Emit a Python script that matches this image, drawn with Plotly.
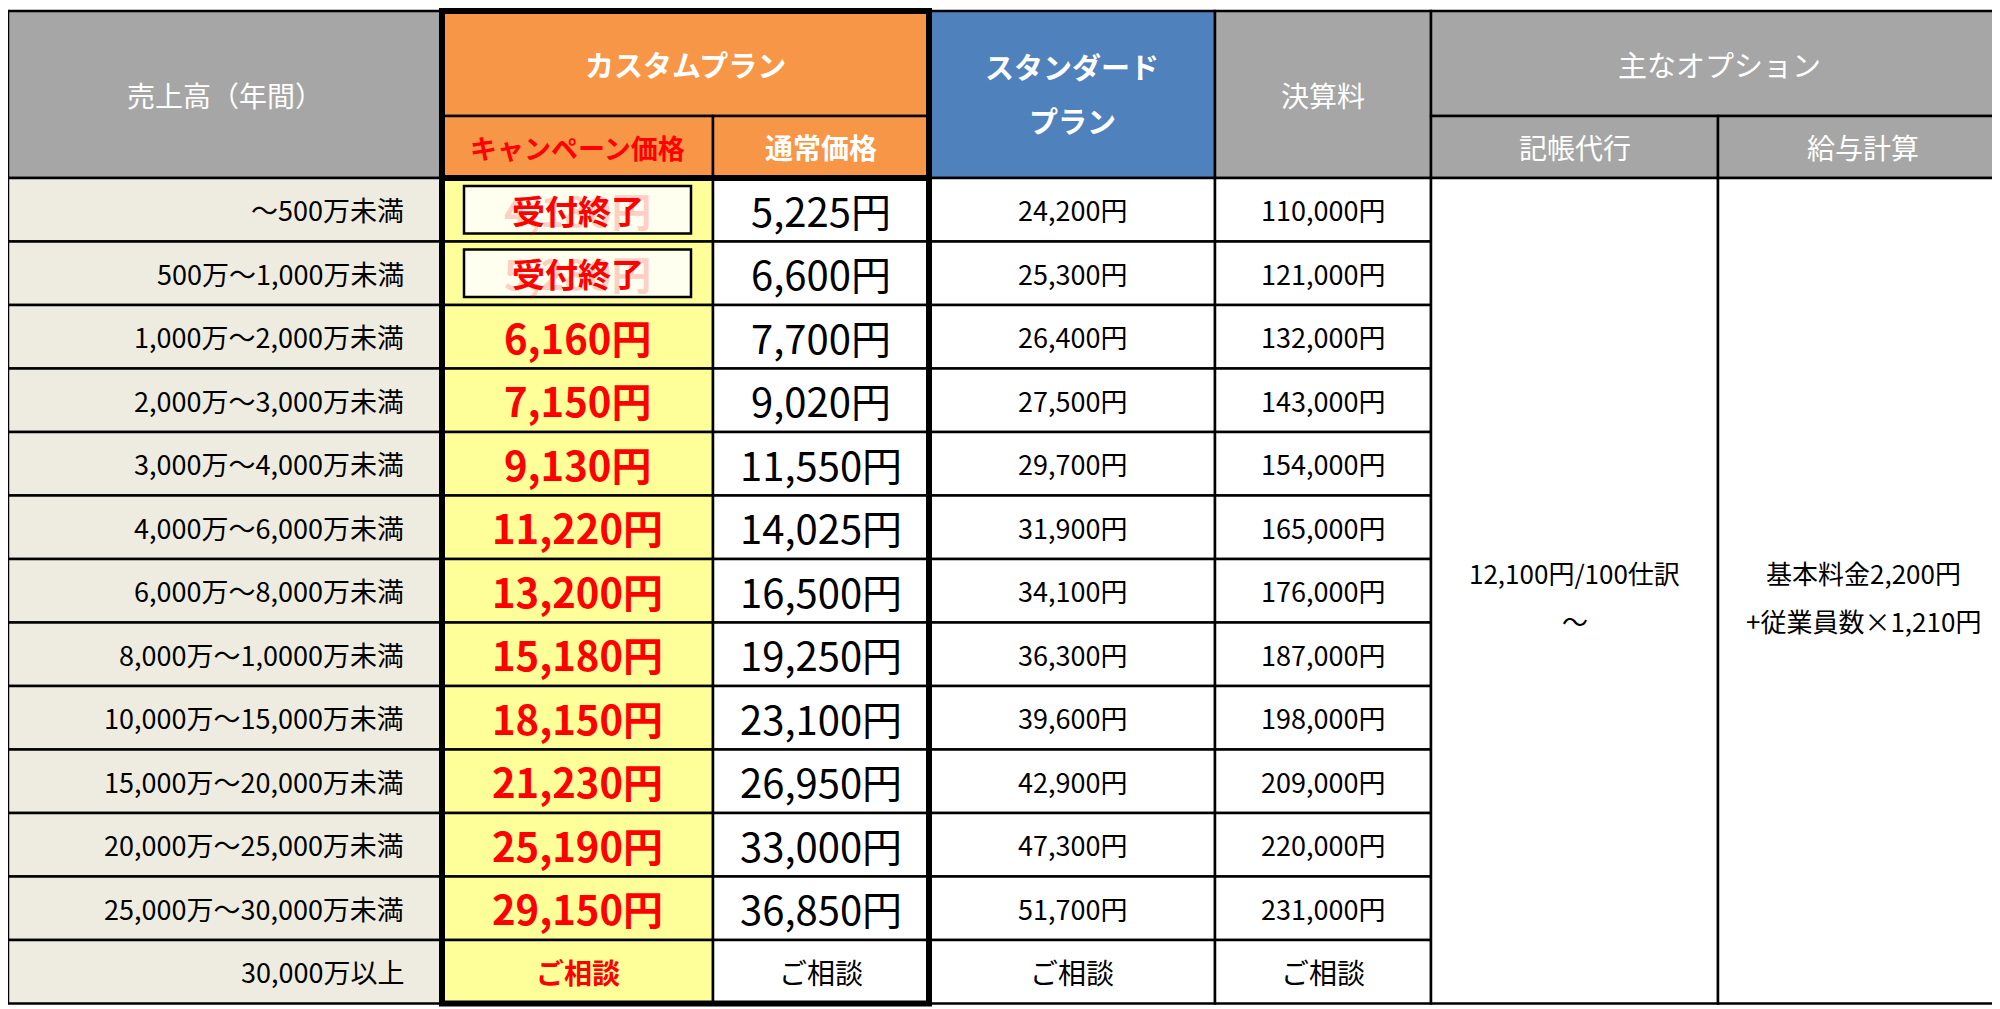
import plotly.graph_objects as go

# table values
sales = ["～500万未満", "500万～1,000万未満", "1,000万～2,000万未満", "2,000万～3,000万未満",
         "3,000万～4,000万未満", "4,000万～6,000万未満", "6,000万～8,000万未満",
         "8,000万～1,0000万未満", "10,000万～15,000万未満", "15,000万～20,000万未満",
         "20,000万～25,000万未満", "25,000万～30,000万未満", "30,000万以上"]
campaign = ["4,180円", "5,280円", "6,160円", "7,150円", "9,130円", "11,220円", "13,200円",
            "15,180円", "18,150円", "21,230円", "25,190円", "29,150円", "ご相談"]
closed = [True, True] + [False] * 11
normal = ["5,225円", "6,600円", "7,700円", "9,020円", "11,550円", "14,025円", "16,500円",
          "19,250円", "23,100円", "26,950円", "33,000円", "36,850円", "ご相談"]
standard = ["24,200円", "25,300円", "26,400円", "27,500円", "29,700円", "31,900円", "34,100円",
            "36,300円", "39,600円", "42,900円", "47,300円", "51,700円", "ご相談"]
kessan = ["110,000円", "121,000円", "132,000円", "143,000円", "154,000円", "165,000円", "176,000円",
          "187,000円", "198,000円", "209,000円", "220,000円", "231,000円", "ご相談"]
kicho = ["12,100円/100仕訳", "～"]
kyuyo = ["基本料金2,200円", "+従業員数×1,210円"]

W, H = 2000, 1009
cols = [0, 434, 705, 921, 1207, 1423, 1710, 2000]
top, mid, hb = 3, 108, 170
rh = 63.5
FONT = "Noto Sans CJK JP"
GRAY, ORANGE, BLUE = "#a6a6a6", "#f79646", "#4f81bd"
BEIGE, YELLOW, RED = "#eeece1", "#ffff99", "#ff0000"

shapes, ann = [], []


def rect(x0, x1, y0, y1, fill, lw=2.5, lc="black"):
    shapes.append(dict(type="rect", x0=x0, x1=x1, y0=y0, y1=y1, fillcolor=fill,
                       line=dict(color=lc, width=lw), layer="below"))


def text(x, y, s, size, color="black", anchor="center", weight="bold"):
    ann.append(dict(x=x, y=y, text=s, showarrow=False, xanchor=anchor, yanchor="middle",
                    font=dict(family=FONT, size=size, color=color, weight=weight)))


def cx(i):
    return (cols[i] + cols[i + 1]) / 2


# header
rect(cols[0], cols[1], top, hb, GRAY)
text(cx(0), (top + hb) / 2, "売上高（年間）", 28, "white", weight="normal")
rect(cols[1], cols[3], top, mid, ORANGE)
text((cols[1] + cols[3]) / 2, (top + mid) / 2, "カスタムプラン", 29, "white")
rect(cols[1], cols[2], mid, hb, ORANGE)
text(cx(1), (mid + hb) / 2, "キャンペーン価格", 27, RED)
rect(cols[2], cols[3], mid, hb, ORANGE)
text(cx(2), (mid + hb) / 2, "通常価格", 28, "white")
rect(cols[3], cols[4], top, hb, BLUE)
text(cx(3), 58, "スタンダード", 29, "white")
text(cx(3), 112, "プラン", 29, "white")
rect(cols[4], cols[5], top, hb, GRAY)
text(cx(4), (top + hb) / 2, "決算料", 28, "white", weight="normal")
rect(cols[5], cols[7], top, mid, GRAY)
text((cols[5] + cols[7]) / 2, (top + mid) / 2, "主なオプション", 29, "white", weight="normal")
rect(cols[5], cols[6], mid, hb, GRAY)
text(cx(5), (mid + hb) / 2, "記帳代行", 28, "white", weight="normal")
rect(cols[6], cols[7], mid, hb, GRAY)
text(cx(6), (mid + hb) / 2, "給与計算", 28, "white", weight="normal")

# data rows
for i, s in enumerate(sales):
    y0 = hb + i * rh
    y1 = y0 + rh
    ym = (y0 + y1) / 2
    last = i == len(sales) - 1
    rect(cols[0], cols[1], y0, y1, BEIGE)
    text(cols[1] - 36, ym, s, 27, anchor="right", weight="normal")
    rect(cols[1], cols[2], y0, y1, YELLOW)
    if closed[i]:
        shapes.append(dict(type="rect", x0=cols[1] + 22, x1=cols[2] - 22, y0=y0 + 8, y1=y1 - 8,
                           fillcolor="#fffff0", line=dict(color="black", width=2.5)))
        text(cx(1), ym, campaign[i], 40, "rgba(255,0,0,0.2)")
        text(cx(1), ym, "受付終了", 33, RED)
    else:
        text(cx(1), ym, campaign[i], 28 if last else 40, RED)
    rect(cols[2], cols[3], y0, y1, "white")
    text(cx(2), ym, normal[i], 28 if last else 40, weight="normal")
    rect(cols[3], cols[4], y0, y1, "white")
    text(cx(3), ym, standard[i], 28 if last else 27, weight="normal")
    rect(cols[4], cols[5], y0, y1, "white")
    text(cx(4), ym, kessan[i], 28 if last else 27, weight="normal")

bottom = hb + len(sales) * rh
ymid = (hb + bottom) / 2
rect(cols[5], cols[6], hb, bottom, "white")
text(cx(5), ymid - 18, kicho[0], 26, weight="normal")
text(cx(5), ymid + 30, kicho[1], 26, weight="normal")
rect(cols[6], cols[7], hb, bottom, "white")
text(cx(6), ymid - 18, kyuyo[0], 26, weight="normal")
text(cx(6), ymid + 30, kyuyo[1], 26, weight="normal")

# thick frame around the custom plan
shapes.append(dict(type="rect", x0=cols[1], x1=cols[3], y0=top, y1=bottom,
                   line=dict(color="black", width=6)))
shapes.append(dict(type="line", x0=cols[1], x1=cols[3], y0=hb, y1=hb,
                   line=dict(color="black", width=6)))

fig = go.Figure()
fig.update_layout(
    width=W, height=H, margin=dict(l=0, r=0, t=0, b=0),
    paper_bgcolor="white", plot_bgcolor="white",
    xaxis=dict(range=[0, W], visible=False, fixedrange=True),
    yaxis=dict(range=[H, 0], visible=False, fixedrange=True),
    shapes=shapes, annotations=ann, showlegend=False,
)
fig.write_html("out.html")
